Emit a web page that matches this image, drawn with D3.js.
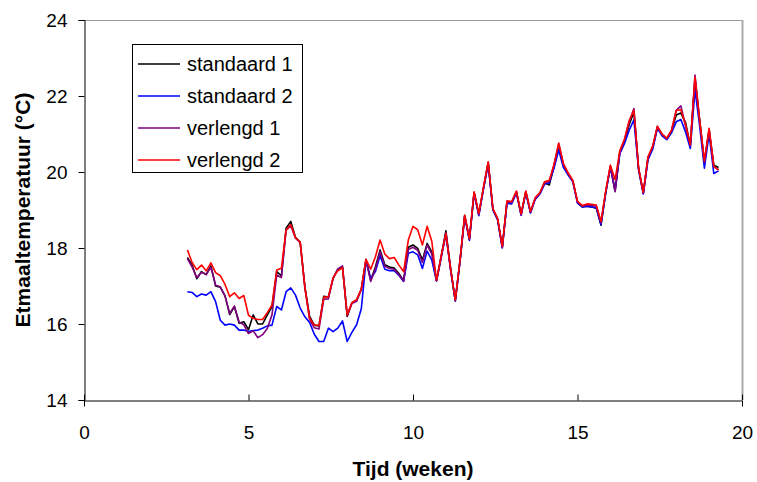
<!DOCTYPE html>
<html><head><meta charset="utf-8">
<script src="https://cdn.jsdelivr.net/npm/d3@7"></script>
<style>
html,body{margin:0;padding:0;background:#fff;}
svg{display:block;font-family:"Liberation Sans",Arial,sans-serif;}
</style></head>
<body>
<svg id="chart" width="757" height="482"></svg>
<script>
// Day numbers (daily samples), x in weeks = day/7
const days = d3.range(22, 136);
const xTicks = [0, 5, 10, 15, 20];
const yTicks = [14, 16, 18, 20, 22, 24];
const seriesNames = ["standaard 1", "standaard 2", "verlengd 1", "verlengd 2"];

const standaard1 = [17.75,17.55,17.19,17.38,17.3,17.53,17.0,16.97,16.74,16.25,16.46,16.02,16.06,15.85,16.24,16.0,16.0,16.24,16.46,17.38,
17.27,18.52,18.7,18.28,18.15,16.98,16.2,15.97,15.95,16.73,16.71,17.2,17.44,17.5,16.2,16.56,16.62,16.92,17.7,17.15,
17.5,17.95,17.56,17.5,17.47,17.33,17.14,18.02,18.08,17.99,17.68,18.12,17.9,17.14,17.78,18.45,17.45,16.62,17.66,18.85,
18.23,19.46,18.88,19.58,20.25,19.02,18.76,18.02,19.22,19.2,19.48,18.88,19.48,18.94,19.3,19.44,19.72,19.66,20.15,20.7,
20.18,19.95,19.76,19.2,19.08,19.1,19.08,19.05,18.6,19.45,20.15,19.52,20.5,20.8,21.25,21.58,20.08,19.44,20.38,20.64,
21.18,20.98,20.87,21.08,21.5,21.55,21.3,20.7,22.45,21.34,20.25,21.1,20.18,20.12];

const standaard2 = [16.85,16.83,16.72,16.79,16.76,16.85,16.59,16.1,15.97,16.0,15.97,15.84,15.84,15.8,15.83,15.84,15.89,15.95,15.97,16.46,
16.37,16.85,16.95,16.76,16.42,16.19,16.04,15.73,15.54,15.54,15.89,15.8,15.89,16.08,15.54,15.78,15.98,16.4,17.66,17.2,
17.38,17.8,17.44,17.4,17.4,17.28,17.12,17.86,17.9,17.82,17.46,17.92,17.68,17.13,17.75,18.36,17.42,16.6,17.64,18.83,
18.2,19.43,18.85,19.55,20.2,19.0,18.74,18.0,19.18,19.16,19.45,18.86,19.45,18.92,19.28,19.42,19.68,19.72,20.1,20.58,
20.12,19.92,19.74,19.18,19.08,19.1,19.08,19.06,18.62,19.45,20.12,19.5,20.48,20.75,21.1,21.37,20.05,19.42,20.32,20.6,
21.15,20.95,20.85,21.03,21.32,21.38,21.05,20.62,22.16,21.2,20.1,21.0,19.96,20.03];

const verlengd1 = [17.72,17.5,17.22,17.36,17.3,17.5,17.02,16.98,16.74,16.28,16.47,16.05,15.98,15.75,15.82,15.64,15.72,15.88,16.24,17.29,
17.22,18.47,18.58,18.26,18.14,16.95,16.12,15.9,15.87,16.65,16.66,17.2,17.45,17.53,16.22,16.54,16.6,16.9,17.68,17.12,
17.45,17.9,17.52,17.46,17.44,17.3,17.13,17.96,18.02,17.94,17.62,18.08,17.84,17.14,17.77,18.4,17.45,16.62,17.66,18.85,
18.23,19.46,18.88,19.58,20.25,19.02,18.76,18.02,19.22,19.2,19.48,18.88,19.48,18.94,19.3,19.44,19.72,19.75,20.18,20.74,
20.2,19.96,19.77,19.21,19.1,19.13,19.12,19.1,18.66,19.48,20.16,19.48,20.52,20.85,21.33,21.67,20.1,19.45,20.38,20.66,
21.2,20.99,20.88,21.08,21.62,21.74,21.2,20.7,22.55,21.35,20.25,21.12,20.14,20.06];

const verlengd2 = [17.95,17.62,17.43,17.55,17.4,17.61,17.35,17.27,17.04,16.72,16.82,16.67,16.75,16.23,16.15,16.12,16.12,16.3,16.5,17.42,
17.47,18.47,18.62,18.27,18.16,16.95,16.15,15.97,15.96,16.7,16.72,17.22,17.4,17.48,16.24,16.56,16.64,16.92,17.7,17.44,
17.77,18.21,17.84,17.72,17.75,17.55,17.38,18.21,18.57,18.48,18.08,18.57,18.18,17.15,17.8,18.38,17.45,16.63,17.68,18.87,
18.25,19.48,18.91,19.6,20.27,19.04,18.78,18.04,19.24,19.22,19.5,18.89,19.5,18.96,19.32,19.46,19.74,19.78,20.2,20.76,
20.22,19.98,19.78,19.23,19.12,19.16,19.15,19.13,18.7,19.5,20.18,19.8,20.56,20.87,21.35,21.63,20.1,19.46,20.4,20.68,
21.2,21.0,20.89,21.1,21.62,21.64,21.24,20.72,22.5,21.36,20.3,21.15,20.15,20.05];

const colors = ["#000000", "#0000ff", "#800080", "#ff0000"];
const allSeries = [standaard1, standaard2, verlengd1, verlengd2];

const svg = d3.select("#chart");
const mLeft = 84, mRight = 742, mTop = 20, mBottom = 400;

const x = d3.scaleLinear().domain([0, 20]).range([mLeft, mRight]);
const y = d3.scaleLinear().domain([14, 24]).range([mBottom, mTop]);

// plot frame (top & right, gray)
svg.append("line").attr("x1", mLeft).attr("x2", mRight).attr("y1", mTop + 0.5).attr("y2", mTop + 0.5)
  .attr("stroke", "#999").attr("stroke-width", 1);
svg.append("line").attr("x1", mRight + 0.5).attr("x2", mRight + 0.5).attr("y1", mTop).attr("y2", mBottom)
  .attr("stroke", "#aaa").attr("stroke-width", 2);

// axes
const yAxis = d3.axisLeft(y).tickValues(yTicks).tickSize(6).tickPadding(11).tickFormat(d3.format("d"));
const gy = svg.append("g").attr("transform", `translate(${mLeft + 0.5},0)`).call(yAxis);
gy.select(".domain").attr("stroke", "#000");
gy.selectAll(".tick line").attr("stroke", "#000");
gy.selectAll(".tick text").attr("font-size", 19).attr("fill", "#000")
  .attr("font-family", "Liberation Sans, Arial, sans-serif");

const xAxis = d3.axisBottom(x).tickValues(xTicks).tickSize(6).tickPadding(19).tickFormat(d3.format("d"));
const gx = svg.append("g").attr("transform", `translate(0,${mBottom + 0.5})`).call(xAxis);
gx.select(".domain").attr("stroke", "#000");
gx.selectAll(".tick line").attr("stroke", "#000").attr("y1", -6).attr("y2", 0);
gx.selectAll(".tick text").attr("font-size", 19).attr("fill", "#000")
  .attr("font-family", "Liberation Sans, Arial, sans-serif");

// lines
const line = d3.line().x((d, i) => x(days[i] / 7)).y(d => y(d));
allSeries.forEach((s, k) => {
  svg.append("path").datum(s).attr("d", line)
    .attr("fill", "none").attr("stroke", colors[k]).attr("stroke-width", 1.6)
    .attr("stroke-linejoin", "round");
});

// axis titles
svg.append("text").attr("x", x(10)).attr("y", 476).attr("text-anchor", "middle")
  .attr("font-size", 21).attr("font-weight", "bold").text("Tijd (weken)");
svg.append("text").attr("transform", "translate(30,210) rotate(-90)").attr("text-anchor", "middle")
  .attr("font-size", 21).attr("font-weight", "bold").text("Etmaaltemperatuur (°C)");

// legend
const lg = svg.append("g");
lg.append("rect").attr("x", 132.5).attr("y", 44.5).attr("width", 170).attr("height", 128)
  .attr("fill", "#fff").attr("stroke", "#000").attr("stroke-width", 1);
seriesNames.forEach((n, k) => {
  const yy = 64 + k * 32;
  lg.append("line").attr("x1", 138).attr("x2", 180).attr("y1", yy).attr("y2", yy)
    .attr("stroke", colors[k]).attr("stroke-width", 1.5);
  lg.append("text").attr("x", 187).attr("y", yy + 7).attr("font-size", 20).attr("fill", "#000").text(n);
});
</script>
</body></html>
